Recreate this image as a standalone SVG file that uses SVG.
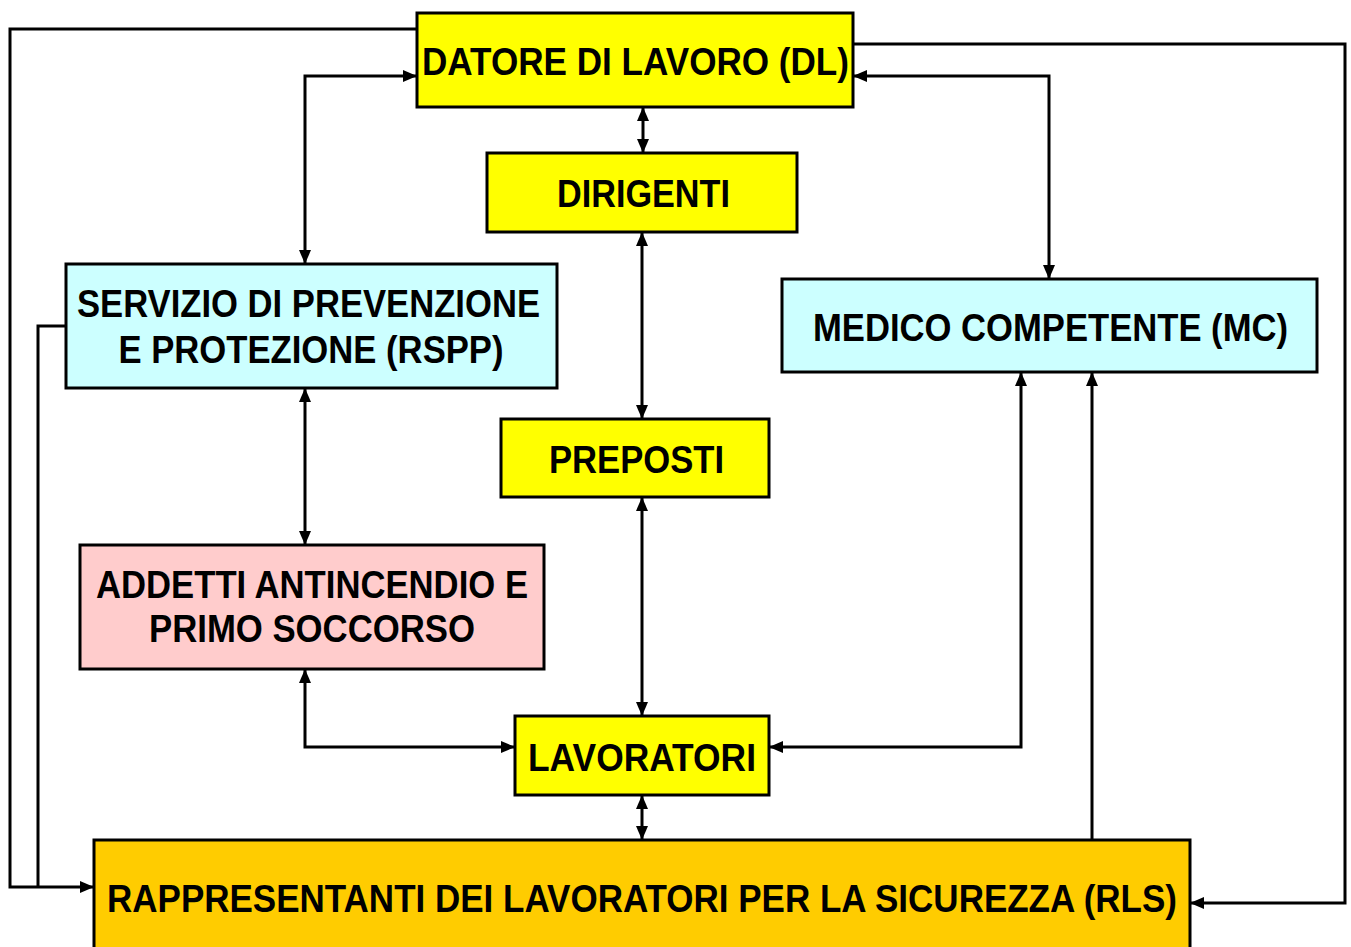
<svg xmlns="http://www.w3.org/2000/svg" width="1351" height="947" viewBox="0 0 1351 947">
<defs>
<marker id="ah" viewBox="0 0 14 12" refX="14" refY="6" markerWidth="14" markerHeight="12" markerUnits="userSpaceOnUse" orient="auto-start-reverse">
<path d="M0,0 L14,6 L0,12 Z" fill="#000"/>
</marker>
</defs>
<style>
.box{stroke:#000;stroke-width:3}
.y{fill:#FFFF00}
.c{fill:#CCFFFF}
.p{fill:#FFCCCC}
.o{fill:#FFCC00}
.t{font-family:"Liberation Sans",Arial,sans-serif;font-weight:bold;font-size:38px;fill:#000;text-anchor:middle}
.ln{fill:none;stroke:#000;stroke-width:3}
.a2{marker-start:url(#ah);marker-end:url(#ah)}
.a1{marker-end:url(#ah)}
</style>
<rect width="1351" height="947" fill="#fff"/>
<g id="connectors">
<path class="ln a1" d="M417,29 H10 V887 H94"/>
<path class="ln" d="M66,326 H38 V887"/>
<path class="ln a2" d="M417,76 H305 V264"/>
<path class="ln a2" d="M853,76 H1049 V279"/>
<path class="ln a1" d="M853,44 H1345 V903 H1190"/>
<path class="ln a2" d="M643,107 V153"/>
<path class="ln a2" d="M642,232 V419"/>
<path class="ln a2" d="M305,388 V545"/>
<path class="ln a2" d="M642,497 V716"/>
<path class="ln a2" d="M305,669 V747 H515"/>
<path class="ln a2" d="M1021,372 V747 H769"/>
<path class="ln a2" d="M642,795 V840"/>
<path class="ln a1" d="M1092,840 V372"/>
</g>
<g id="dl">
<rect class="box y" x="417" y="13" width="436" height="94"/>
<text class="t" x="635.5" y="75" textLength="427" lengthAdjust="spacingAndGlyphs">DATORE DI LAVORO (DL)</text>
</g>
<g id="dirigenti">
<rect class="box y" x="487" y="153" width="310" height="79"/>
<text class="t" x="643.5" y="207" textLength="173" lengthAdjust="spacingAndGlyphs">DIRIGENTI</text>
</g>
<g id="spp">
<rect class="box c" x="66" y="264" width="491" height="124"/>
<text class="t" x="308.5" y="317" textLength="463" lengthAdjust="spacingAndGlyphs">SERVIZIO DI PREVENZIONE</text>
<text class="t" x="311" y="363" textLength="385" lengthAdjust="spacingAndGlyphs">E PROTEZIONE (RSPP)</text>
</g>
<g id="mc">
<rect class="box c" x="782" y="279" width="535" height="93"/>
<text class="t" x="1050.5" y="341" textLength="475" lengthAdjust="spacingAndGlyphs">MEDICO COMPETENTE (MC)</text>
</g>
<g id="preposti">
<rect class="box y" x="501" y="419" width="268" height="78"/>
<text class="t" x="636.5" y="473" textLength="175" lengthAdjust="spacingAndGlyphs">PREPOSTI</text>
</g>
<g id="addetti">
<rect class="box p" x="80" y="545" width="464" height="124"/>
<text class="t" x="312" y="598" textLength="432" lengthAdjust="spacingAndGlyphs">ADDETTI ANTINCENDIO E</text>
<text class="t" x="312" y="642" textLength="326" lengthAdjust="spacingAndGlyphs">PRIMO SOCCORSO</text>
</g>
<g id="lavoratori">
<rect class="box y" x="515" y="716" width="254" height="79"/>
<text class="t" x="642" y="771" textLength="228" lengthAdjust="spacingAndGlyphs">LAVORATORI</text>
</g>
<g id="rls">
<rect class="box o" x="94" y="840" width="1096" height="130"/>
<text class="t" x="642" y="912" textLength="1070" lengthAdjust="spacingAndGlyphs">RAPPRESENTANTI DEI LAVORATORI PER LA SICUREZZA (RLS)</text>
</g>
</svg>
